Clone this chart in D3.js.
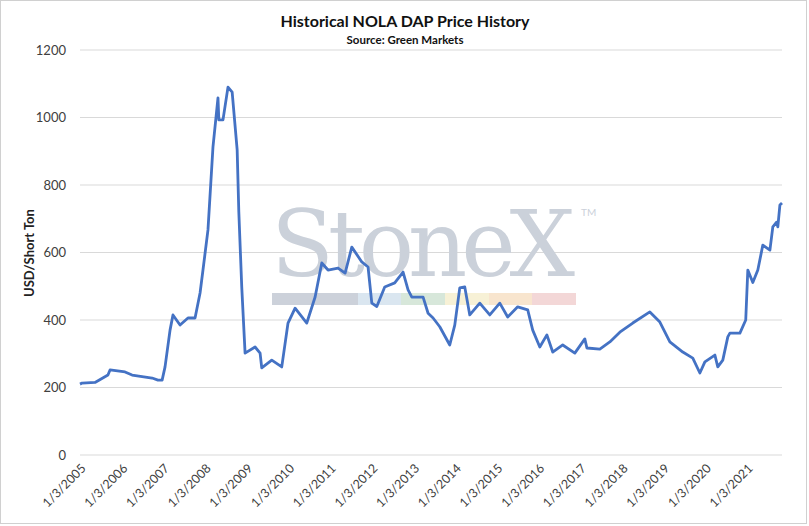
<!DOCTYPE html>
<html><head><meta charset="utf-8">
<script src="https://cdnjs.cloudflare.com/ajax/libs/d3/7.8.5/d3.min.js"></script>
<style>body{margin:0;background:#fff;font-family:Lato,"Liberation Sans",sans-serif;}</style>
</head><body><div id="plot"></div>
<script>
var years = [2005.00,2005.05,2005.36,2005.67,2005.72,2006.08,2006.25,2006.73,2006.87,2006.97,
  2007.04,2007.16,2007.23,2007.40,2007.59,2007.76,2007.88,2007.95,2008.07,2008.19,2008.31,2008.33,
  2008.43,2008.55,2008.65,2008.77,2008.81,2008.88,2008.96,2009.20,2009.32,2009.36,2009.60,2009.84,
  2009.99,2010.16,2010.44,2010.64,2010.80,2010.95,2011.19,2011.36,2011.52,2011.76,2011.91,2012.00,
  2012.12,2012.31,2012.55,2012.75,2012.87,2012.96,2013.23,2013.35,2013.47,2013.63,2013.87,2013.99,
  2014.11,2014.23,2014.35,2014.59,2014.83,2015.07,2015.26,2015.50,2015.74,2015.86,2016.03,2016.20,
  2016.34,2016.58,2016.87,2017.11,2017.16,2017.47,2017.71,2017.95,2018.26,2018.67,2018.91,2019.15,
  2019.46,2019.70,2019.87,2019.99,2020.23,2020.30,2020.42,2020.54,2020.59,2020.83,2020.97,2021.02,
  2021.14,2021.26,2021.38,2021.55,2021.62,2021.71,2021.74,2021.79,2021.84];
var prices = [210,213,215,237,252,246,237,228,222,222,
  261,370,415,385,406,406,480,548,667,913,1058,993,
  993,1090,1075,904,720,498,302,320,302,258,281,261,
  391,435,391,468,569,548,554,539,616,572,557,450,
  440,498,510,542,489,468,468,420,406,380,326,385,
  495,498,415,450,415,450,409,439,430,370,320,356,
  305,326,302,344,317,314,335,364,391,424,394,335,
  305,287,243,276,296,261,281,350,361,361,400,548,
  511,548,622,607,676,690,676,741,747];
var tickYears = d3.range(2005, 2022);
var yTicks = [0,200,400,600,800,1000,1200];
var bandColors = ['#c6ccd6','#d6e3ee','#d3e4d6','#f6f0d2','#f7e2c9','#f2d3d3'];

var W = 809, H = 526;
var svg = d3.select('#plot').append('svg').attr('width',W).attr('height',H);
svg.append('rect').attr('x',0.5).attr('y',0.5).attr('width',W-3).attr('height',H-3)
  .attr('fill','#fff').attr('stroke','#d0d0d0');

var x = d3.scaleLinear().domain([2005,2021.84]).range([80,782]);
var y = d3.scaleLinear().domain([0,1200]).range([455,50]);

// grid
svg.append('g').selectAll('line').data(yTicks).join('line')
  .attr('x1',80).attr('x2',782).attr('y1',d=>y(d)).attr('y2',d=>y(d))
  .attr('stroke','#d9d9d9').attr('stroke-width',1);

// watermark
svg.append('text').attr('x',271).attr('y',276).attr('font-family','"DejaVu Serif","Liberation Serif",serif')
  .attr('font-size',92).attr('fill','#cbd1da').attr('textLength',304).text('StoneX');
svg.append('text').attr('x',581).attr('y',216).attr('font-size',10).attr('fill','#cbd1da').text('TM');
var bx = [272,358,401,445,489,532,576];
svg.append('g').selectAll('rect').data(bandColors).join('rect')
  .attr('x',(d,i)=>bx[i]).attr('width',(d,i)=>bx[i+1]-bx[i]).attr('y',293).attr('height',12)
  .attr('fill',d=>d).attr('opacity',0.9);

// axes
var yAxis = svg.append('g').attr('transform','translate(80,0)')
  .call(d3.axisLeft(y).tickValues(yTicks).tickSize(0).tickPadding(14).tickFormat(d3.format('d')));
yAxis.select('.domain').remove();
yAxis.selectAll('text').attr('font-size',13).attr('font-family','Lato,sans-serif').attr('fill','#404040');

var xAxis = svg.append('g').attr('transform','translate(0,455)')
  .call(d3.axisBottom(x).tickValues(tickYears).tickSize(0).tickFormat(d=>'1/3/'+d));
xAxis.select('.domain').remove();
xAxis.selectAll('text').attr('font-size',12.5).attr('font-family','Lato,sans-serif').attr('fill','#404040')
  .attr('text-anchor','end').attr('dy',0).attr('transform','translate(4,12) rotate(-45)');

// line
svg.append('path').datum(d3.zip(years,prices))
  .attr('d',d3.line().x(d=>x(d[0])).y(d=>y(d[1])))
  .attr('fill','none').attr('stroke','#4472c4').attr('stroke-width',2.8).attr('stroke-linejoin','round');

// titles
svg.append('text').attr('x',405).attr('y',27).attr('text-anchor','middle').attr('font-size',16)
  .attr('font-weight','bold').attr('fill','#111').text('Historical NOLA DAP Price History');
svg.append('text').attr('x',405).attr('y',44).attr('text-anchor','middle').attr('font-size',11.5)
  .attr('font-weight','bold').attr('fill','#111').text('Source: Green Markets');
svg.append('text').attr('transform','translate(34,253) rotate(-90)').attr('text-anchor','middle')
  .attr('font-size',13).attr('font-weight','bold').attr('fill','#222').text('USD/Short Ton');
</script></body></html>
